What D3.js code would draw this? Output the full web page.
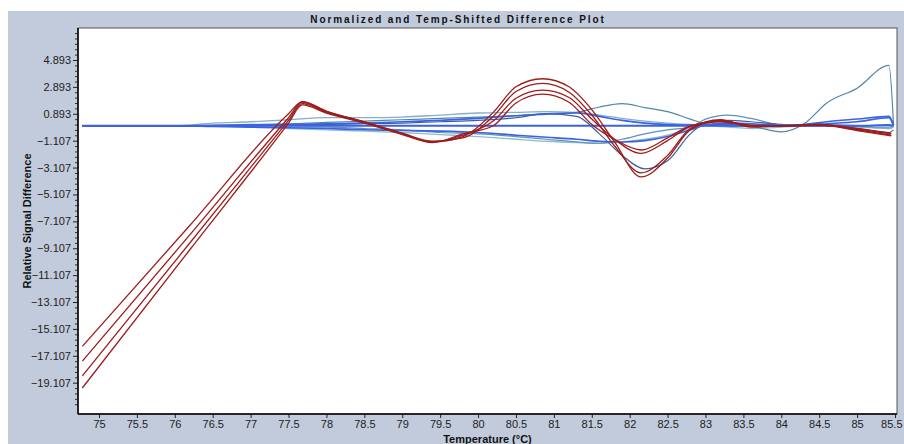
<!DOCTYPE html>
<html>
<head>
<meta charset="utf-8">
<script src="https://cdn.jsdelivr.net/npm/d3@7.9.0/dist/d3.min.js"></script>
<style>
  html, body { margin: 0; padding: 0; background: #fff; }
  svg { display: block; font-family: "Liberation Sans", Arial, sans-serif; }
</style>
</head>
<body>
<svg id="chart" width="904" height="444"></svg>
<script>
// tick labels
const xTicks = [75, 75.5, 76, 76.5, 77, 77.5, 78, 78.5, 79, 79.5, 80, 80.5, 81, 81.5, 82, 82.5, 83, 83.5, 84, 84.5, 85, 85.5];
const yTicks = [4.893, 2.893, 0.893, -1.107, -3.107, -5.107, -7.107, -9.107, -11.107, -13.107, -15.107, -17.107, -19.107];

// red curves (temperature grid + one array per sample)
const redTemps = [74.78, 76.2, 77.5, 77.68, 78.0, 78.5, 79.0, 79.4, 79.8, 80.2, 80.5, 80.85, 81.2, 81.5, 81.8, 82.15, 82.5, 82.8, 83.2, 83.6, 84.0, 84.5, 85.0, 85.45];
const red1 = [-16.4, -7.4, 0.9, 1.8, 1.1, 0.3, -0.6, -1.2, -0.8, 1.0, 2.9, 3.5, 2.9, 1.2, -1.2, -3.8, -2.4, -0.3, 0.4, 0.0, 0.0, 0.1, -0.3, -0.7];
const red2 = [-17.5, -8.1, 0.6, 1.75, 1.05, 0.3, -0.55, -1.15, -0.9, 0.7, 2.55, 3.15, 2.5, 0.8, -1.5, -3.5, -2.2, -0.2, 0.45, -0.1, 0.0, 0.05, -0.25, -0.6];
const red3 = [-18.6, -8.7, 0.4, 1.65, 1.0, 0.25, -0.6, -1.2, -0.7, 0.35, 2.05, 2.65, 2.1, 0.5, -1.0, -2.05, -1.1, -0.05, 0.35, 0.05, 0.0, 0.1, -0.2, -0.55];
const red4 = [-19.5, -9.2, 0.2, 1.55, 0.95, 0.2, -0.65, -1.25, -0.6, 0.0, 1.7, 2.35, 1.75, 0.1, -1.0, -1.8, -0.9, 0.0, 0.3, 0.0, -0.05, 0.05, -0.35, -0.75];

// blue curves
const blueTemps = [74.78, 76.0, 76.5, 77.0, 77.5, 78.0, 78.5, 79.0, 79.5, 80.0, 80.5, 80.9, 81.3, 81.6, 81.9, 82.2, 82.5, 82.8, 83.0, 83.3, 83.6, 84.0, 84.3, 84.6, 85.0, 85.42, 85.48];
const blue0 = [0, 0, 0, 0, 0, 0, 0, 0, 0, 0, 0, 0, 0, 0, 0, 0, 0, 0, 0, 0, 0, 0, 0, 0, 0, 0.05, 0];
const blue1 = [0, 0, 0.05, 0.1, 0.15, 0.25, 0.35, 0.45, 0.55, 0.65, 0.75, 0.85, 1.0, 1.4, 1.65, 1.35, 1.05, 0.5, 0.15, 0.0, -0.05, -0.45, 0.15, 1.7, 2.8, 4.5, 0.1];
const blue2 = [0, 0, 0.2, 0.3, 0.45, 0.6, 0.6, 0.65, 0.8, 0.95, 1.0, 1.05, 1.0, 0.8, 0.55, 0.35, 0.2, 0.1, 0.05, 0.05, 0.0, 0.05, 0.05, 0.1, 0.0, -0.2, -0.1];
const blue3 = [0, 0, 0, 0.05, 0.1, 0.15, 0.2, 0.3, 0.4, 0.55, 0.75, 0.9, 0.95, 0.7, 0.4, 0.2, 0.1, 0.05, 0.1, 0.2, 0.15, 0.05, 0.1, 0.3, 0.5, 0.7, 0.05];
const blue4 = [0, 0, -0.05, -0.1, -0.2, -0.3, -0.4, -0.5, -0.65, -0.8, -1.0, -1.15, -1.25, -1.3, -1.2, -1.0, -0.7, -0.2, 0.0, -0.1, -0.2, -0.1, 0, 0, -0.1, -0.2, -0.1];
const blue5 = [0, 0, -0.05, -0.1, -0.15, -0.2, -0.3, -0.35, -0.4, -0.5, -0.7, -0.85, -1.0, -1.15, -1.2, -1.1, -0.8, -0.3, 0.05, 0.1, 0.0, 0.0, 0.05, 0.15, 0.3, 0.6, 0.0];
const blue6 = [0, 0, 0, -0.05, -0.1, -0.1, -0.2, -0.3, -0.5, -0.6, -0.8, -1.0, -1.2, -1.3, -1.0, -0.6, -0.3, -0.1, 0.5, 0.8, 0.55, 0.05, 0.0, 0.0, -0.05, -0.1, 0.0];
const blue7 = [0, 0, 0, 0.05, 0.05, 0.1, 0.15, 0.2, 0.3, 0.4, 0.6, 0.9, 0.7, -0.6, -2.2, -3.2, -2.6, -0.6, 0.2, 0.4, 0.3, 0.1, 0.0, 0.0, -0.2, -0.5, -0.3];

const blueSeries = [
  { values: blue4, color: '#8dbccb', width: 1.3 },
  { values: blue2, color: '#86aec6', width: 1.3 },
  { values: blue6, color: '#5f93b3', width: 1.2 },
  { values: blue1, color: '#4f86aa', width: 1.2 },
  { values: blue7, color: '#3d5f9e', width: 1.2 },
  { values: blue5, color: '#3a62e4', width: 1.6 },
  { values: blue3, color: '#3a62e4', width: 1.6 },
  { values: blue0, color: '#3a62e4', width: 2 }
];
const redSeries = [red1, red2, red3, red4];

const svg = d3.select('#chart');

// panel background
svg.append('rect').attr('x', 8).attr('y', 11).attr('width', 896).attr('height', 433).attr('fill', '#c1cbdc');

const margin = { top: 28, right: 7, bottom: 30, left: 78 };
const width = 904, height = 444;

const x = d3.scaleLinear().domain([74.723, 85.526]).range([margin.left, width - margin.right]);
const y = d3.scaleLinear().domain([-21.435, 7.273]).range([height - margin.bottom, margin.top]);

svg.append('rect')
  .attr('x', margin.left).attr('y', margin.top)
  .attr('width', width - margin.right - margin.left)
  .attr('height', height - margin.bottom - margin.top)
  .attr('fill', '#fff');

// minor y ticks
const step = yTicks[0] - yTicks[1];
const minor = [];
yTicks.forEach(t => { for (let k = 1; k < 5; k++) minor.push(t - k * step / 5); });
minor.push(...[1, 2, 3, 4, 5].map(k => yTicks[0] + k * step / 5));
svg.append('g')
  .attr('transform', `translate(${margin.left},0)`)
  .call(d3.axisLeft(y).tickValues(minor.filter(v => v > y.domain()[0] && v < y.domain()[1])).tickSize(3).tickFormat(''))
  .call(g => g.select('.domain').remove())
  .call(g => g.selectAll('line').attr('stroke', '#333'));

// y axis
svg.append('g')
  .attr('transform', `translate(${margin.left},0)`)
  .call(d3.axisLeft(y).tickValues(yTicks).tickSize(5).tickPadding(2).tickFormat(d3.format('.3f')))
  .call(g => g.select('.domain').remove())
  .call(g => g.selectAll('line').attr('stroke', '#222'))
  .call(g => g.selectAll('text').attr('font-size', 11).attr('fill', '#222').attr('font-family', '"Liberation Sans", Arial, sans-serif'));

// x axis
const xAxis = svg.append('g')
  .attr('transform', `translate(0,${height - margin.bottom})`)
  .call(d3.axisBottom(x).tickValues(xTicks).tickSize(4).tickPadding(2).tickFormat(d3.format('')))
  .call(g => g.select('.domain').remove())
  .call(g => g.selectAll('line').attr('stroke', '#222'))
  .call(g => g.selectAll('text').attr('font-size', 11).attr('fill', '#222').attr('font-family', '"Liberation Sans", Arial, sans-serif'));
// keep the last label inside the window
xAxis.selectAll('.tick text')
  .filter(d => d === xTicks[xTicks.length - 1])
  .attr('text-anchor', 'end')
  .attr('dx', 7);

// lines
const plot = svg.append('g');
const lineBlue = d3.line().x((d, i) => x(blueTemps[i])).y(d => y(d)).curve(d3.curveMonotoneX);
const lineRed = d3.line().x((d, i) => x(redTemps[i])).y(d => y(d)).curve(d3.curveMonotoneX);

plot.selectAll('path.blue')
  .data(blueSeries)
  .join('path')
  .attr('class', 'blue')
  .attr('d', d => lineBlue(d.values))
  .attr('fill', 'none')
  .attr('stroke', d => d.color)
  .attr('stroke-width', d => d.width);

plot.selectAll('path.red')
  .data(redSeries)
  .join('path')
  .attr('class', 'red')
  .attr('d', d => lineRed(d))
  .attr('fill', 'none')
  .attr('stroke', '#9d1c1c')
  .attr('stroke-width', 1.3);

// plot frame
svg.append('rect')
  .attr('x', margin.left).attr('y', margin.top)
  .attr('width', width - margin.right - margin.left)
  .attr('height', height - margin.bottom - margin.top)
  .attr('fill', 'none')
  .attr('stroke', '#555');
svg.append('line')
  .attr('x1', margin.left).attr('x2', margin.left)
  .attr('y1', margin.top).attr('y2', height - margin.bottom)
  .attr('stroke', '#000').attr('stroke-width', 1.5);
svg.append('line')
  .attr('x1', margin.left).attr('x2', width - margin.right)
  .attr('y1', height - margin.bottom).attr('y2', height - margin.bottom)
  .attr('stroke', '#000').attr('stroke-width', 1.5);

// titles
svg.append('text')
  .attr('x', 458).attr('y', 23)
  .attr('text-anchor', 'middle')
  .attr('font-size', 10).attr('font-weight', 'bold')
  .attr('letter-spacing', 1.9)
  .attr('fill', '#111')
  .text('Normalized and Temp-Shifted Difference Plot');

svg.append('text')
  .attr('x', (margin.left + width - margin.right) / 2).attr('y', 443)
  .attr('text-anchor', 'middle')
  .attr('font-size', 11).attr('font-weight', 'bold')
  .attr('fill', '#111')
  .text('Temperature (°C)');

svg.append('text')
  .attr('transform', `translate(31,${(margin.top + height - margin.bottom) / 2}) rotate(-90)`)
  .attr('text-anchor', 'middle')
  .attr('font-size', 11).attr('font-weight', 'bold')
  .attr('fill', '#111')
  .text('Relative Signal Difference');
</script>
</body>
</html>
